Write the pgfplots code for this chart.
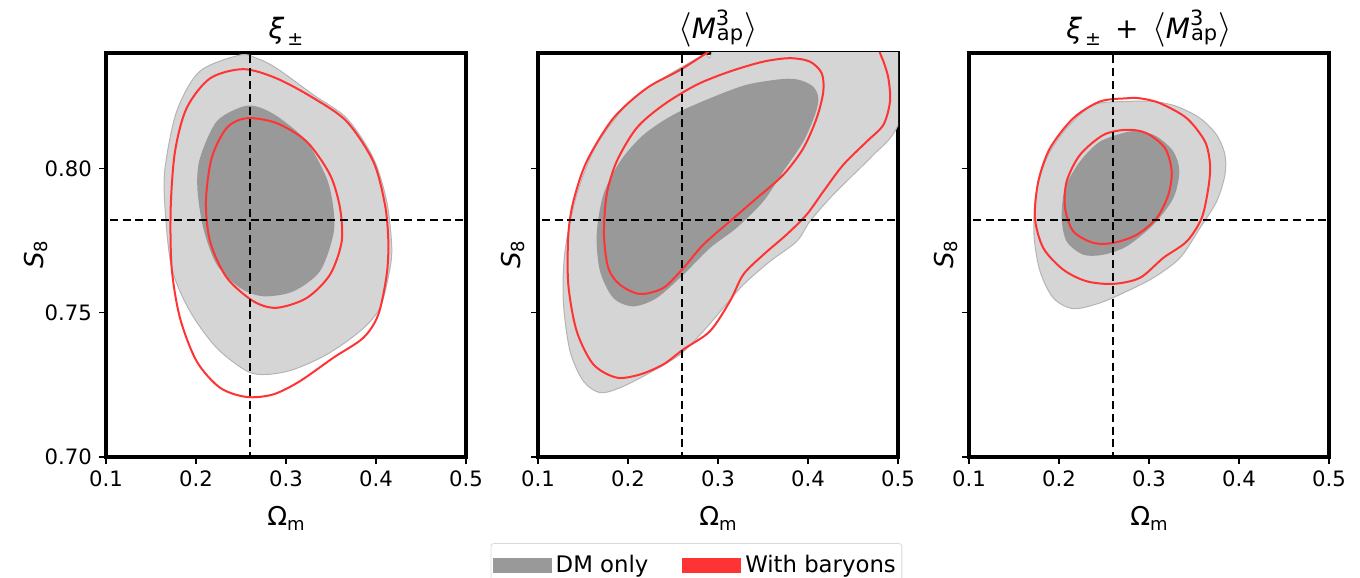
\documentclass[border=0pt]{standalone}
\usepackage{fontspec}
\setmainfont{DejaVu Sans}
\usepackage{amsmath}
\usepackage{pgfplots}
\pgfplotsset{compat=1.18}
\definecolor{lgray}{HTML}{D5D5D5}
\definecolor{lgedge}{HTML}{B4B4B4}
\definecolor{dgray}{HTML}{999999}
\definecolor{cred}{HTML}{FF3333}
\newcommand{\Seight}{\textit{S}\raisebox{-0.3ex}{\fontsize{9pt}{9pt}\selectfont 8}}
\newcommand{\Om}{Ω\raisebox{-0.3ex}{\fontsize{9pt}{9pt}\selectfont m}}
\newcommand{\xipm}{\textit{ξ}\hspace{1.5pt}\raisebox{-3.5pt}{\fontsize{9.5pt}{10pt}\selectfont ±}}
\newcommand{\Map}{{\fontsize{16pt}{16pt}\selectfont$\langle$}\textit{M}\hspace{0.5pt}\rlap{\hspace{-0.5pt}\raisebox{6.5pt}{\fontsize{10.5pt}{10pt}\selectfont 3}}\raisebox{-1pt}{\fontsize{10.5pt}{10pt}\selectfont ap}\hspace{0.5pt}{\fontsize{16pt}{16pt}\selectfont$\rangle$}}
\pgfplotsset{
  every axis/.style={
    scale only axis, width=180pt, height=202pt,
    xmin=0.1, xmax=0.5, ymin=0.70, ymax=0.84,
    xtick={0.1,0.2,0.3,0.4,0.5}, xticklabels={0.1,0.2,0.3,0.4,0.5},
    ytick={0.70,0.75,0.80},
    axis line style={line width=1.6pt},
    tick style={line width=0.7pt, black},
    tick align=outside, major tick length=3.5pt,
    xtick pos=bottom, ytick pos=left,
    tick label style={font=\fontsize{10.6pt}{11pt}\selectfont},
    xlabel={\Om},
    ylabel={\Seight},
    every axis x label/.style={at={(axis description cs:0.5,-0.152)}, anchor=center, font=\fontsize{13pt}{14pt}\selectfont},
    every axis title/.style={font=\fontsize{14pt}{16pt}\selectfont, at={(axis description cs:0.5,1.037)}, anchor=base, inner sep=0pt},
    clip=true,
  },
  ylab/.style={every axis y label/.style={at={(axis description cs:#1,0.5)}, rotate=90, anchor=center, font=\fontsize{13pt}{14pt}\selectfont}},
  light/.style={smooth cycle, fill=lgray, draw=lgedge, line width=0.5pt, mark=none},
  dark/.style={smooth cycle, fill=dgray, draw=none, mark=none},
  redc/.style={smooth cycle, draw=cred, line width=1pt, mark=none},
  redo/.style={smooth, draw=cred, line width=1pt, mark=none},
  cross/.style={black, dashed, dash pattern=on 4pt off 2.4pt, line width=1pt, mark=none},
}
\begin{document}
\begin{tikzpicture}
\path[use as bounding box] (-53pt,-60.5pt) rectangle (627pt,228.5pt);
% Panel 1
\begin{axis}[at={(0pt,0pt)}, title={\xipm}, yticklabels={0.70,0.75,0.80}, ylab=-0.195]
\addplot[light] coordinates {
(0.249,0.8393) (0.204,0.8336) (0.1785,0.8197) (0.1656,0.8001) (0.1656,0.7863) (0.173,0.7655)
(0.1933,0.7505) (0.223,0.7378) (0.2563,0.7298) (0.2785,0.7286) (0.3081,0.7303) (0.3452,0.7355)
(0.3822,0.7436) (0.4044,0.7517) (0.4156,0.7655) (0.4174,0.7736) (0.4119,0.7886) (0.397,0.8036)
(0.3674,0.8174) (0.3304,0.8255) (0.2896,0.8347) (0.2674,0.8382)};
\addplot[dark] coordinates {
(0.2526,0.8215) (0.223,0.8163) (0.2044,0.8036) (0.2015,0.7932) (0.2081,0.7793) (0.223,0.7667)
(0.2489,0.7586) (0.2748,0.7557) (0.3081,0.7574) (0.3378,0.7644) (0.3526,0.7771) (0.3526,0.7863)
(0.3452,0.7966) (0.323,0.8093) (0.2933,0.8174) (0.2711,0.8211)};
\addplot[redc] coordinates {
(0.2526,0.8344) (0.2156,0.8312) (0.1896,0.8209) (0.1767,0.8059) (0.1719,0.7863) (0.173,0.7655)
(0.1822,0.7482) (0.2007,0.7332) (0.2267,0.724) (0.2563,0.7208) (0.2859,0.7217) (0.3156,0.7263)
(0.3526,0.7344) (0.3859,0.7413) (0.4026,0.7494) (0.4119,0.7632) (0.4137,0.7747) (0.41,0.7874)
(0.397,0.8024) (0.3674,0.8163) (0.3304,0.8244) (0.2896,0.8312)};
\addplot[redc] coordinates {
(0.2563,0.8174) (0.2341,0.814) (0.2174,0.8036) (0.2111,0.7886) (0.2156,0.7747) (0.2341,0.7622)
(0.2637,0.754) (0.2896,0.7517) (0.323,0.7551) (0.3489,0.7632) (0.3619,0.7747) (0.36,0.7863)
(0.3489,0.7978) (0.323,0.8093) (0.2896,0.8157)};
\addplot[cross] coordinates {(0.26,0.69) (0.26,0.85)};
\addplot[cross] coordinates {(0.09,0.782) (0.51,0.782)};
\end{axis}
% Panel 2
\begin{axis}[at={(216pt,0pt)}, title={\Map}, yticklabels={}, ylab=-0.07,
  legend columns=2,
  legend style={at={(axis description cs:0.44,-0.213)}, anchor=north, draw=black!15, rounded corners=1.5pt,
    font=\fontsize{11.4pt}{12pt}\selectfont, inner xsep=1pt, inner ysep=4pt,
    /tikz/every even column/.append style={column sep=15pt}},
  legend cell align=left]
\addlegendimage{area legend, legend image code/.code={\fill[dgray, sharp corners] (0pt,-3.5pt) rectangle (29pt,3.5pt);}}
\addlegendentry{DM only}
\addlegendimage{area legend, legend image code/.code={\fill[cred, sharp corners] (0pt,-3.5pt) rectangle (29pt,3.5pt);}}
\addlegendentry{With baryons}
\addplot[light, forget plot] coordinates {
(0.293,0.84) (0.2837,0.8393) (0.2393,0.8313) (0.2022,0.8232) (0.1652,0.8082) (0.143,0.7909) (0.13,0.7713)
(0.1281,0.754) (0.1356,0.7367) (0.1504,0.7263) (0.1689,0.7223) (0.1911,0.724) (0.2207,0.7286)
(0.2578,0.7355) (0.2837,0.7436) (0.3059,0.7517) (0.3281,0.7597) (0.3578,0.7678) (0.3874,0.7747)
(0.4022,0.7817) (0.4244,0.7897) (0.4467,0.7967) (0.4726,0.8047) (0.4985,0.814) (0.53,0.84) (0.53,0.87) (0.32,0.87)};
\addplot[dark, forget plot] coordinates {
(0.3726,0.831) (0.3319,0.829) (0.2911,0.8243) (0.2504,0.8186) (0.217,0.8116) (0.1911,0.8024)
(0.1726,0.7909) (0.1652,0.777) (0.1689,0.7644) (0.1837,0.7551) (0.2059,0.7522) (0.2319,0.7551)
(0.2615,0.7632) (0.2911,0.7724) (0.3207,0.7794) (0.3504,0.7886) (0.3726,0.799) (0.3948,0.8093)
(0.4078,0.8186) (0.4115,0.8243) (0.4059,0.8283) (0.3911,0.8306)};
\addplot[redo, forget plot] coordinates {
(0.3022,0.8428) (0.2874,0.84) (0.2578,0.8341) (0.2207,0.8278) (0.1837,0.8174) (0.1541,0.8024)
(0.1393,0.7886) (0.1337,0.777) (0.1337,0.7597) (0.143,0.7436) (0.1615,0.7321) (0.1874,0.7275)
(0.2133,0.7286) (0.2393,0.7321) (0.2615,0.7373) (0.2911,0.7436) (0.3133,0.754) (0.3281,0.7632)
(0.3504,0.7701) (0.3763,0.7771) (0.3985,0.784) (0.417,0.792) (0.4393,0.8013) (0.4652,0.8093)
(0.4837,0.8151) (0.4911,0.8232) (0.4893,0.8313) (0.4837,0.8372) (0.48,0.84) (0.478,0.8444)};
\addplot[redc, forget plot] coordinates {
(0.38,0.8382) (0.3504,0.837) (0.3133,0.8336) (0.2763,0.829) (0.2393,0.822) (0.2096,0.814)
(0.1874,0.8024) (0.1763,0.7909) (0.1733,0.777) (0.1781,0.7655) (0.1911,0.7597) (0.2133,0.7565)
(0.2393,0.7586) (0.2615,0.7655) (0.2837,0.7736) (0.3133,0.7817) (0.343,0.7897) (0.3726,0.7978)
(0.3948,0.807) (0.4096,0.8174) (0.417,0.8266) (0.4152,0.833) (0.4022,0.837)};
\addplot[cross, forget plot] coordinates {(0.26,0.69) (0.26,0.85)};
\addplot[cross, forget plot] coordinates {(0.09,0.782) (0.51,0.782)};
\end{axis}
% Panel 3
\begin{axis}[at={(431.5pt,0pt)}, title={\xipm\hspace{7pt}+\hspace{7pt}\Map}, yticklabels={}, ylab=-0.064]
\addplot[light] coordinates {
(0.2752,0.8232) (0.2381,0.822) (0.2085,0.814) (0.1863,0.8036) (0.1744,0.7909) (0.1722,0.777)
(0.1789,0.7644) (0.1937,0.7551) (0.2159,0.7514) (0.2456,0.7534) (0.2752,0.7574) (0.3048,0.7621)
(0.3344,0.769) (0.3567,0.7794) (0.3752,0.7886) (0.3844,0.7978) (0.3844,0.8047) (0.3752,0.8116)
(0.3567,0.8174) (0.3307,0.8215) (0.3048,0.8232)};
\addplot[dark] coordinates {
(0.2752,0.8126) (0.2456,0.8093) (0.2233,0.8024) (0.2067,0.7932) (0.203,0.7828) (0.2085,0.7747)
(0.227,0.7701) (0.2493,0.7701) (0.2752,0.773) (0.3048,0.7805) (0.327,0.7897) (0.3337,0.799)
(0.327,0.8059) (0.3085,0.8111) (0.29,0.8128)};
\addplot[redc] coordinates {
(0.2752,0.8243) (0.2456,0.8232) (0.2159,0.8174) (0.19,0.807) (0.177,0.7955) (0.1733,0.7828)
(0.1826,0.7724) (0.2048,0.7649) (0.2307,0.7609) (0.2604,0.76) (0.29,0.7621) (0.3159,0.769)
(0.3419,0.7747) (0.3585,0.7828) (0.3659,0.7932) (0.3678,0.8013) (0.3622,0.8093) (0.3419,0.8174)
(0.3122,0.8226) (0.29,0.8243)};
\addplot[redc] coordinates {
(0.2752,0.8134) (0.2493,0.8116) (0.2233,0.8047) (0.2085,0.7955) (0.2067,0.7863) (0.2159,0.7782)
(0.2381,0.7742) (0.2604,0.7742) (0.2863,0.777) (0.3085,0.7828) (0.3215,0.7909) (0.3252,0.799)
(0.3178,0.807) (0.2974,0.8122)};
\addplot[cross] coordinates {(0.26,0.69) (0.26,0.85)};
\addplot[cross] coordinates {(0.09,0.782) (0.51,0.782)};
\end{axis}
\end{tikzpicture}
\end{document}
